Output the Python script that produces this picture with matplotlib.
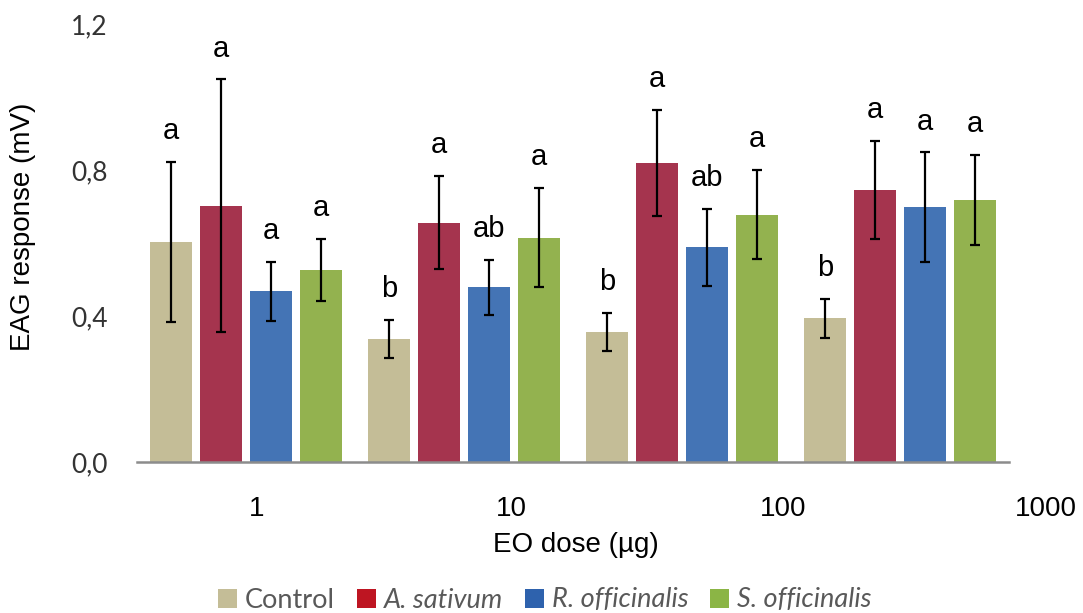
import matplotlib
matplotlib.use("Agg")
import matplotlib.pyplot as plt
from matplotlib.patches import Patch
import numpy as np

# ---- data ----
doses = ["1", "10", "100", "1000"]
series = ["Control", "A. sativum", "R. officinalis", "S. officinalis"]
control = [0.602, 0.337, 0.357, 0.394]
a_sativum = [0.702, 0.656, 0.820, 0.745]
r_officinalis = [0.468, 0.479, 0.588, 0.698]
s_officinalis = [0.526, 0.615, 0.678, 0.718]
control_err = [0.219, 0.052, 0.052, 0.053]
a_sativum_err = [0.346, 0.127, 0.145, 0.135]
r_officinalis_err = [0.081, 0.075, 0.106, 0.150]
s_officinalis_err = [0.085, 0.135, 0.123, 0.123]
control_letters = ["a", "b", "b", "b"]
a_sativum_letters = ["a", "a", "a", "a"]
r_officinalis_letters = ["a", "ab", "ab", "a"]
s_officinalis_letters = ["a", "a", "a", "a"]
yticks = [0.0, 0.4, 0.8, 1.2]
ytick_labels = ["0,0", "0,4", "0,8", "1,2"]

values = [control, a_sativum, r_officinalis, s_officinalis]
errors = [control_err, a_sativum_err, r_officinalis_err, s_officinalis_err]
letters = [control_letters, a_sativum_letters, r_officinalis_letters, s_officinalis_letters]

bar_colors = ["#C4BD97", "#A5344E", "#4474B5", "#93B24F"]
legend_colors = ["#C4BD97", "#BE1522", "#2E62AD", "#8BB545"]

# ---- figure ----
W, H = 1083, 613
fig = plt.figure(figsize=(W / 100, H / 100), dpi=100)
ax = fig.add_axes([137 / W, 1 - 462 / H, (1009 - 137) / W, (462 - 24) / H])

ngroups = len(control)
x = np.arange(ngroups)
pitch = 50 / 218
width = 42 / 218
for i in range(len(series)):
    xs = x + (i - 1.5) * pitch
    ax.bar(xs, values[i], width=width, color=bar_colors[i], zorder=2)
    ax.errorbar(xs, values[i], yerr=errors[i], fmt="none", ecolor="black",
                elinewidth=1.6, capsize=3.5, capthick=1.6, zorder=3)
    for xi, v, e, lab in zip(xs, values[i], errors[i], letters[i]):
        ax.annotate(lab, (xi, v + e), xytext=(0, 16.5), textcoords="offset points",
                    ha="center", va="baseline", fontsize=21,
                    family="Liberation Sans", color="black")

ax.set_xlim(-0.5, ngroups - 0.5)
ax.set_ylim(0, 1.2)
ax.set_yticks(yticks)
ax.set_yticklabels(ytick_labels, family="Lato", fontsize=19, color="#333333")
ax.tick_params(axis="y", length=0, pad=21)
ax.set_xticks([])
for s in ["top", "right", "left"]:
    ax.spines[s].set_visible(False)
ax.spines["bottom"].set_color("#8c8c8c")
ax.spines["bottom"].set_linewidth(1.8)

# dose labels (offset as in the original)
label_pos = [0.05, 1.216, 2.463, 3.67]
for p, lab in zip(label_pos, doses):
    ax.text(p, -0.108, lab, transform=ax.get_xaxis_transform(), ha="center",
            va="center", fontsize=20, family="Liberation Sans", clip_on=False)

fig.text(576 / W, 1 - 545 / H, "EO dose (µg)", ha="center", va="center",
         fontsize=20, family="Liberation Sans")
fig.text(23 / W, 1 - 227 / H, "EAG response (mV)", ha="center", va="center",
         rotation=90, fontsize=20, family="Liberation Sans")

handles = [Patch(facecolor=c, edgecolor="none") for c in legend_colors]
leg = fig.legend(handles, series, loc="center", bbox_to_anchor=(545 / W, 1 - 600 / H),
                 ncol=4, frameon=False, handlelength=0.7, handleheight=0.7,
                 handletextpad=0.3, columnspacing=0.8,
                 prop={"family": "Lato", "size": 19.5})
for t in leg.get_texts():
    t.set_color("#595959")
    if t.get_text() != "Control":
        t.set_style("italic")

fig.savefig("out.png", dpi=100)
